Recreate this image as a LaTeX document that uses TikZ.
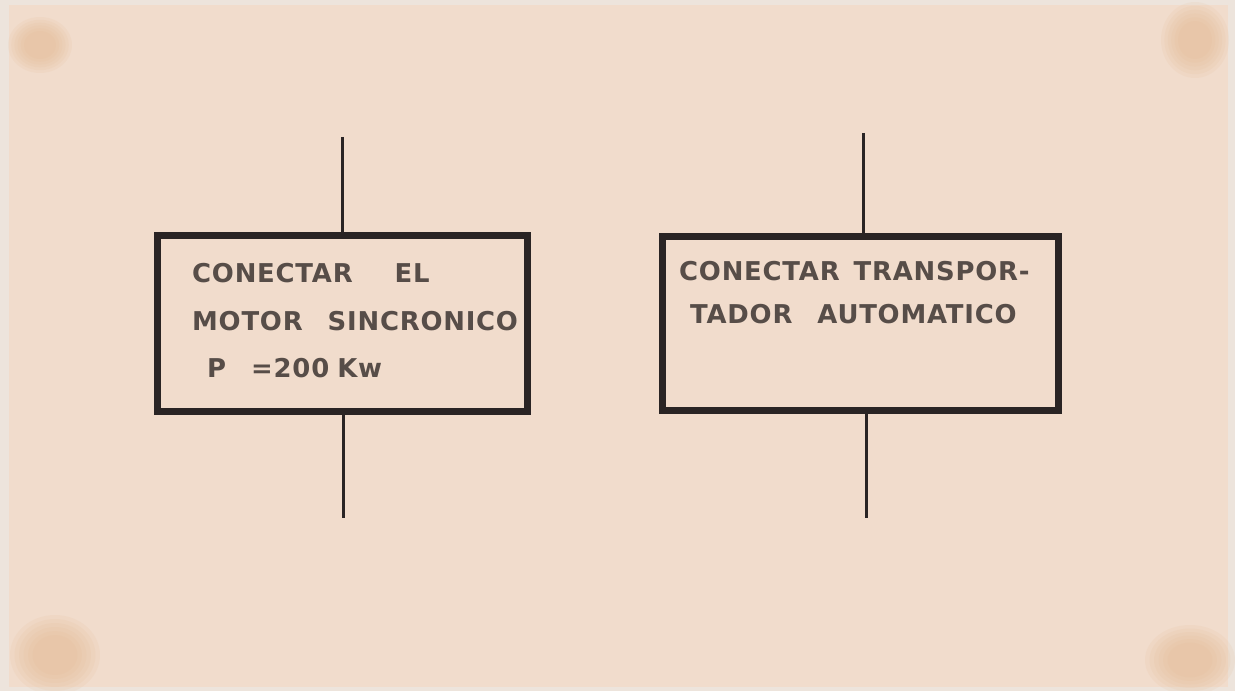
\documentclass[tikz,border=0pt]{standalone}
\usepackage{fontspec}
\setmainfont{DejaVu Sans}
\newfontfamily\lettering[LetterSpace=3]{DejaVu Sans Bold}
\definecolor{paper}{HTML}{F1DCCC}
\definecolor{paperedge}{HTML}{EDE4DC}
\definecolor{stain}{HTML}{E4B88E}
\definecolor{ink}{HTML}{2A2424}
\definecolor{txt}{HTML}{574D48}
\begin{document}
\begin{tikzpicture}[x=1bp,y=-1bp,
  stepbox/.style={draw=ink,line width=7bp,rectangle,inner sep=0pt,outer sep=0pt},
  wire/.style={draw=ink,line width=3bp},
  lbl/.style={anchor=base west,inner sep=0pt,text=txt,font=\lettering\fontsize{26}{32}\selectfont},
  spot/.style={fill=stain,opacity=0.12}]
\useasboundingbox (0,0) rectangle (1235,691);
\fill[paperedge] (0,0) rectangle (1235,691);
\fill[paper] (9,5) rectangle (1228,687);
% stains
\foreach \r in {1,0.9,0.8,0.7,0.6,0.5}{
  \fill[spot] (40,45) ellipse ({32*\r} and {28*\r});
  \fill[spot] (1195,40) ellipse ({34*\r} and {38*\r});
  \fill[spot] (55,655) ellipse ({45*\r} and {40*\r});
  \fill[spot] (1190,660) ellipse ({45*\r} and {35*\r});
}
% boxes
\node[stepbox,minimum width=369bp,minimum height=175bp] (motor) at (342.5,323.5) {};
\node[stepbox,minimum width=396bp,minimum height=173bp] (transp) at (860,323.5) {};
% texts
\node[lbl] (m1) at (192,282) {CONECTAR\hspace{42bp}EL};
\node[lbl] (m2) at (192,330) {MOTOR\hspace{25bp}SINCRONICO};
\node[lbl] (m3) at (207,377) {P\hspace{25bp}=200\hspace{8bp}Kw};
\node[lbl] (t1) at (679,280) {CONECTAR\hspace{14bp}TRANSPOR-};
\node[lbl] (t2) at (690,323) {TADOR\hspace{25bp}AUTOMATICO};
% wires
\coordinate (mtop) at (342,137);
\coordinate (mbot) at (343,518);
\coordinate (ttop) at (863,133);
\coordinate (tbot) at (866,518);
\draw[wire] (mtop) -- (mtop |- motor.north);
\draw[wire] (mbot |- motor.south) -- (mbot);
\draw[wire] (ttop) -- (ttop |- transp.north);
\draw[wire] (tbot |- transp.south) -- (tbot);
\end{tikzpicture}
\end{document}
